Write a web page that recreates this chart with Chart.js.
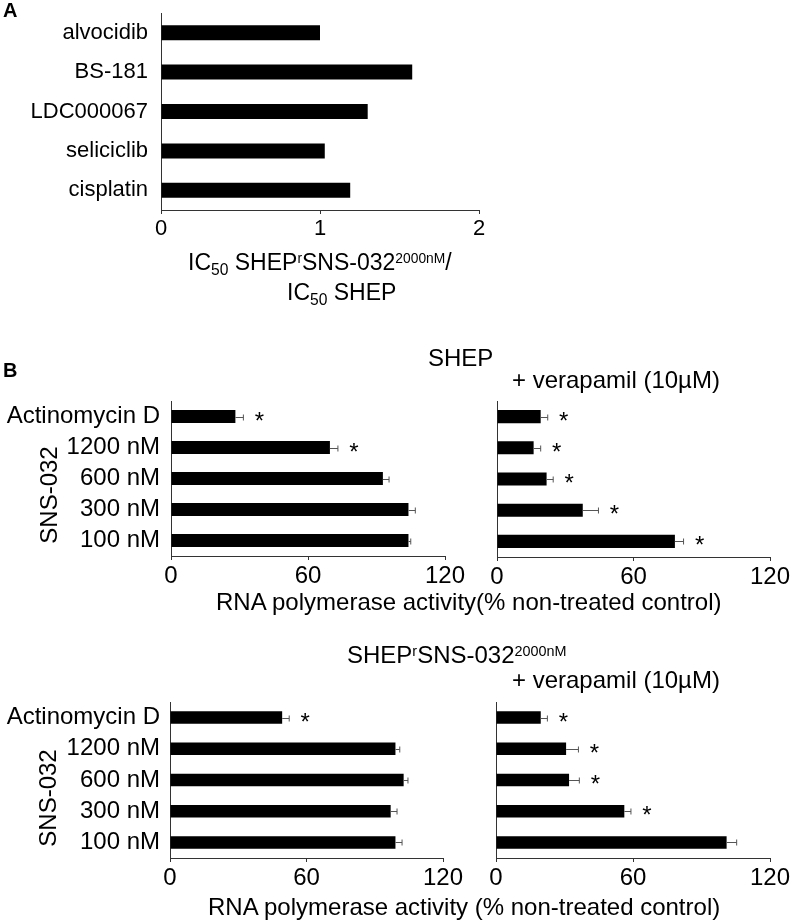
<!DOCTYPE html>
<html>
<head>
<meta charset="utf-8">
<script src="https://cdn.jsdelivr.net/npm/chart.js@4.4.1/dist/chart.umd.min.js"></script>
<style>
  html, body { margin:0; padding:0; background:#fff; }
  body { width:790px; height:921px; position:relative; overflow:hidden;
         font-family:"Liberation Sans", Arial, sans-serif; color:#000; }
  canvas { position:absolute; left:0; top:0; }
  .t { position:absolute; white-space:nowrap; line-height:1; transform:translateY(-50%); }
  .sub { font-size:0.68em; position:relative; top:0.32em; }
  .sup { font-size:0.6em; position:relative; top:-0.5em; }
  .rot { position:absolute; white-space:nowrap; line-height:1; transform:translate(-50%,-50%) rotate(-90deg); }
</style>
</head>
<body>
<canvas id="cA" width="790" height="921"></canvas>
<canvas id="cB1" width="790" height="921"></canvas>
<canvas id="cB2" width="790" height="921"></canvas>
<canvas id="cB3" width="790" height="921"></canvas>
<canvas id="cB4" width="790" height="921"></canvas>

<div class="t" style="left:3px;top:10px;font-size:20px;font-weight:bold;">A</div>
<div class="t" style="left:188px;top:262px;font-size:23px;">IC<span class="sub">50</span> SHEP<span class="sup">r</span>SNS-032<span class="sup">2000nM</span>/</div>
<div class="t" style="left:287px;top:292px;font-size:23px;">IC<span class="sub">50</span> SHEP</div>

<div class="t" style="left:3px;top:370px;font-size:20px;font-weight:bold;">B</div>
<div class="t" style="left:428px;top:358px;font-size:24px;">SHEP</div>
<div class="t" style="left:512px;top:380px;font-size:24px;">+ verapamil (10µM)</div>
<div class="rot" style="left:49px;top:495px;font-size:24px;">SNS-032</div>
<div class="t" style="left:216px;top:602px;font-size:24px;">RNA polymerase activity(% non-treated control)</div>

<div class="t" style="left:347px;top:655px;font-size:24px;">SHEP<span class="sup">r</span>SNS-032<span class="sup">2000nM</span></div>
<div class="t" style="left:512px;top:680px;font-size:24px;">+ verapamil (10µM)</div>
<div class="rot" style="left:48px;top:798px;font-size:24px;">SNS-032</div>
<div class="t" style="left:208px;top:907px;font-size:24px;">RNA polymerase activity (% non-treated control)</div>

<script>
// ---------- data ----------
const drugsA   = ['alvocidib', 'BS-181', 'LDC000067', 'seliciclib', 'cisplatin'];
const ratioA   = [1.00, 1.58, 1.30, 1.03, 1.19];
const ticksA   = [0, 1, 2];

const treatments = ['Actinomycin D', '1200 nM', '600 nM', '300 nM', '100 nM'];
const ticksB     = [0, 60, 120];

const shepVals    = [28.2, 69.6, 92.8, 104.0, 104.0];
const shepErr     = [3.5, 3.5, 2.7, 3.0, 1.0];
const shepSig     = [true, true, false, false, false];

const shepVerVals = [19.2, 16.1, 21.8, 37.7, 78.2];
const shepVerErr  = [3.1, 3.1, 2.9, 6.9, 3.8];
const shepVerSig  = [true, true, true, true, true];

const resVals     = [49.3, 99.1, 102.7, 97.0, 99.1];
const resErr      = [3.1, 1.9, 1.9, 2.8, 2.9];
const resSig      = [true, false, false, false, false];

const resVerVals  = [19.6, 30.7, 32.0, 56.2, 101.0];
const resVerErr   = [2.9, 5.4, 4.5, 2.9, 4.4];
const resVerSig   = [true, true, true, true, false];

// ---------- helpers ----------
const FONT = '"Liberation Sans", Arial, sans-serif';
const W = 790, H = 921;

const errPlugin = {
  id: 'errBars',
  afterDatasetsDraw(chart, args, opts) {
    if (!opts || !opts.err) return;
    const ctx = chart.ctx;
    const xs = chart.scales.x;
    const meta = chart.getDatasetMeta(0);
    const vals = chart.data.datasets[0].data;
    ctx.save();
    meta.data.forEach((bar, i) => {
      const v = vals[i], e = opts.err[i];
      const x0 = xs.getPixelForValue(v);
      const x1 = xs.getPixelForValue(v + e);
      const y = Math.round(bar.y) + 0.5;
      ctx.strokeStyle = '#555';
      ctx.lineWidth = 1;
      ctx.beginPath();
      ctx.moveTo(x0, y); ctx.lineTo(x1, y);
      ctx.moveTo(x1, y - 3); ctx.lineTo(x1, y + 3);
      ctx.stroke();
      if (opts.sig && opts.sig[i]) {
        ctx.fillStyle = '#000';
        ctx.font = '24px ' + FONT;
        ctx.textAlign = 'center';
        ctx.textBaseline = 'alphabetic';
        ctx.fillText('*', x1 + 16, bar.y + 12);
      }
    });
    ctx.restore();
  }
};

function makeBar(id, cfg) {
  const { labels, values, min, max, ticks, L, R, T, B, fontSize, barPct,
          showY, err, sig, yPad } = cfg;
  const xAxisH = 40;
  return new Chart(document.getElementById(id), {
    type: 'bar',
    data: { labels, datasets: [{ data: values, backgroundColor: '#000', borderWidth: 0,
            barPercentage: barPct, categoryPercentage: 1 }] },
    plugins: [errPlugin],
    options: {
      indexAxis: 'y',
      responsive: false,
      animation: false,
      devicePixelRatio: 1,
      layout: { padding: { left: 0, top: T, right: W - R, bottom: H - B - xAxisH } },
      plugins: {
        legend: { display: false },
        tooltip: { enabled: false },
        errBars: { err, sig }
      },
      scales: {
        x: {
          type: 'linear', min, max,
          afterBuildTicks: s => { s.ticks = ticks.map(v => ({ value: v })); },
          afterFit: s => { s.height = xAxisH; s.paddingLeft = 0; s.paddingRight = 0; },
          grid: { display: true, drawOnChartArea: false, drawTicks: true, tickLength: 4, color: '#333' },
          border: { display: true, color: '#333', width: 1 },
          ticks: { color: '#000', padding: 2, autoSkip: false, font: { family: FONT, size: fontSize }, maxRotation: 0 }
        },
        y: {
          type: 'category',
          afterFit: s => { s.width = L; s.paddingTop = 0; s.paddingBottom = 0; },
          grid: { display: false, drawTicks: false },
          border: { display: true, color: '#333', width: 1 },
          ticks: { display: showY, autoSkip: false, color: '#000', padding: yPad, font: { family: FONT, size: fontSize } }
        }
      }
    }
  });
}

// Panel A
makeBar('cA', { labels: drugsA, values: ratioA, min: 0, max: 2, ticks: ticksA,
  L: 161, R: 479, T: 13, B: 210, fontSize: 22, barPct: 0.38, showY: true, yPad: 13 });

// Panel B, SHEP
makeBar('cB1', { labels: treatments, values: shepVals, min: 0, max: 120, ticks: ticksB,
  L: 171, R: 445, T: 401, B: 556, fontSize: 24, barPct: 0.42, showY: true, yPad: 11,
  err: shepErr, sig: shepSig });
makeBar('cB2', { labels: treatments, values: shepVerVals, min: 0, max: 120, ticks: ticksB,
  L: 497, R: 770, T: 401, B: 557, fontSize: 24, barPct: 0.42, showY: false, yPad: 0,
  err: shepVerErr, sig: shepVerSig });

// Panel B, SHEP rSNS-032 2000nM
makeBar('cB3', { labels: treatments, values: resVals, min: 0, max: 120, ticks: ticksB,
  L: 170, R: 443, T: 702, B: 858, fontSize: 24, barPct: 0.40, showY: true, yPad: 10,
  err: resErr, sig: resSig });
makeBar('cB4', { labels: treatments, values: resVerVals, min: 0, max: 120, ticks: ticksB,
  L: 496, R: 770, T: 702, B: 858, fontSize: 24, barPct: 0.40, showY: false, yPad: 0,
  err: resVerErr, sig: resVerSig });
</script>
</body>
</html>
